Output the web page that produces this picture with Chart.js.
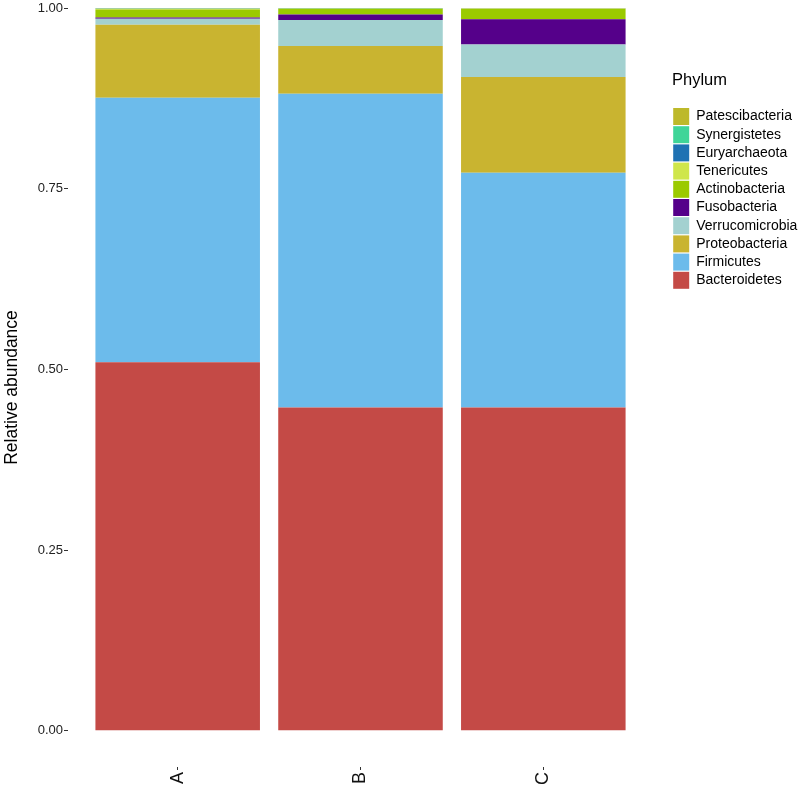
<!DOCTYPE html>
<html>
<head>
<meta charset="utf-8">
<script src="https://cdn.jsdelivr.net/npm/chart.js@4.4.1/dist/chart.umd.min.js"></script>
<style>
  html, body { margin: 0; padding: 0; background: #fff; }
  #wrap { width: 800px; height: 788px; }
</style>
</head>
<body>
<div id="wrap"><canvas id="abundance"></canvas></div>
<script>
// samples on the x axis
const samples = ['A', 'B', 'C'];

// relative abundance per phylum, one value per sample (A, B, C)
const bacteroidetes   = [0.510, 0.4475, 0.4475];
const firmicutes      = [0.366, 0.434, 0.3245];
const proteobacteria  = [0.101, 0.066, 0.1325];
const verrucomicrobia = [0.008, 0.036, 0.045];
const fusobacteria    = [0.002, 0.0075, 0.035];
const actinobacteria  = [0.011, 0.008, 0.0142];
const tenericutes     = [0.001, 0.0005, 0.0006];
const euryarchaeota   = [0.0005, 0.0003, 0.0003];
const synergistetes   = [0.0003, 0.0001, 0.0002];
const patescibacteria = [0.0002, 0.0001, 0.0002];

const yTicks = [0, 0.25, 0.5, 0.75, 1];

// bottom of the stack first
const phyla = [
  ['Bacteroidetes', bacteroidetes, '#C44A46'],
  ['Firmicutes', firmicutes, '#6CBBEB'],
  ['Proteobacteria', proteobacteria, '#C9B430'],
  ['Verrucomicrobia', verrucomicrobia, '#A3D1D0'],
  ['Fusobacteria', fusobacteria, '#55008A'],
  ['Actinobacteria', actinobacteria, '#9BCA00'],
  ['Tenericutes', tenericutes, '#CFE64B'],
  ['Euryarchaeota', euryarchaeota, '#1F72B3'],
  ['Synergistetes', synergistetes, '#3FD598'],
  ['Patescibacteria', patescibacteria, '#BDB92A']
];

const datasets = phyla.map(([name, vals, color]) => ({
  label: name,
  data: vals.map((v, i) => ({x: i, y: v})),
  backgroundColor: color,
  borderWidth: 0,
  categoryPercentage: 0.9,
  barPercentage: 1.0
}));

const font = 'Liberation Sans, Arial, Helvetica, sans-serif';

const config = {
  type: 'bar',
  data: {datasets: datasets},
  options: {
    responsive: true,
    maintainAspectRatio: false,
    animation: false,
    layout: {padding: 0},
    plugins: {
      tooltip: {enabled: false},
      legend: {
        position: 'right',
        align: 'start',
        reverse: true,
        maxWidth: 128,
        title: {
          display: true,
          text: 'Phylum',
          position: 'start',
          color: '#000',
          font: {family: font, size: 16.5, lineHeight: 1.2},
          padding: {top: 72, bottom: 15}
        },
        labels: {
          boxWidth: 16,
          boxHeight: 17,
          padding: 1.2,
          color: '#000',
          font: {family: font, size: 14}
        }
      }
    },
    scales: {
      x: {
        type: 'linear',
        stacked: true,
        offset: false,
        min: -0.6,
        max: 2.6,
        afterBuildTicks: (s) => { s.ticks = samples.map((_, i) => ({value: i})); },
        afterFit: (s) => { s.height = 21; },
        grid: {offset: false, drawOnChartArea: false, drawTicks: true, tickLength: 3, tickColor: '#333'},
        border: {display: false},
        ticks: {
          autoSkip: false,
          maxRotation: 90,
          minRotation: 90,
          padding: 2,
          color: '#111',
          font: {family: font, size: 18},
          callback: (v) => samples[v]
        }
      },
      y: {
        stacked: true,
        min: -0.05,
        max: 1.0,
        afterBuildTicks: (s) => { s.ticks = yTicks.map(v => ({value: v})); },
        afterFit: (s) => { s.width = 68; },
        grid: {drawOnChartArea: false, drawTicks: true, tickLength: 4, tickColor: '#333'},
        border: {display: false},
        ticks: {
          padding: 1,
          color: '#222',
          font: {family: font, size: 13, lineHeight: 1.08},
          callback: (v) => v.toFixed(2)
        },
        title: {
          display: true,
          text: 'Relative abundance',
          color: '#000',
          font: {family: font, size: 17.5},
          padding: {top: 2, bottom: 0}
        }
      },
      gap: {
        position: 'right',
        display: true,
        afterFit: (s) => { s.width = 19; },
        grid: {display: false},
        border: {display: false},
        ticks: {display: false}
      }
    }
  }
};

const abundanceChart = new Chart(document.getElementById('abundance'), config);
</script>
</body>
</html>
